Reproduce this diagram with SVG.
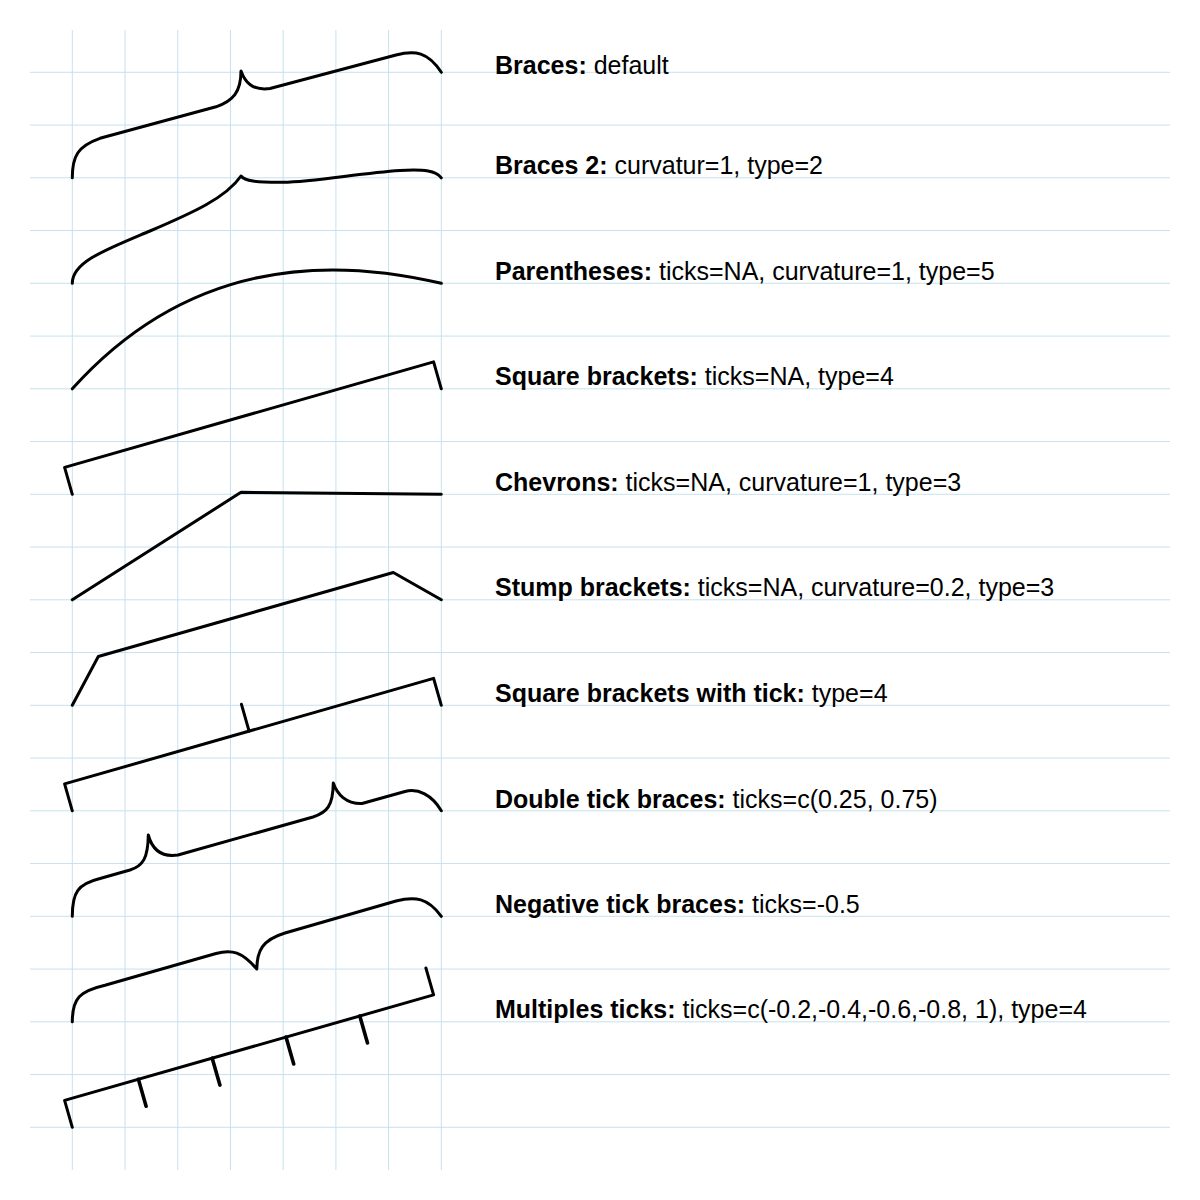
<svg xmlns="http://www.w3.org/2000/svg" width="1200" height="1200" viewBox="0 0 1200 1200">
<style>
.grid line{stroke:#c6e2ee;stroke-width:1}
.br{fill:none;stroke:#000;stroke-width:3;stroke-linejoin:round;stroke-linecap:round}
.tk{stroke-width:3.6}
.lbl{font-family:"Liberation Sans",Arial,sans-serif;font-size:25px;fill:#000}
.lbl tspan{font-weight:bold}
</style>
<rect width="1200" height="1200" fill="#fff"/>
<g class="grid" id="grid">
<line x1="30" y1="72.3" x2="1170" y2="72.3"/>
<line x1="30" y1="125.05" x2="1170" y2="125.05"/>
<line x1="30" y1="177.8" x2="1170" y2="177.8"/>
<line x1="30" y1="230.55" x2="1170" y2="230.55"/>
<line x1="30" y1="283.3" x2="1170" y2="283.3"/>
<line x1="30" y1="336.05" x2="1170" y2="336.05"/>
<line x1="30" y1="388.8" x2="1170" y2="388.8"/>
<line x1="30" y1="441.55" x2="1170" y2="441.55"/>
<line x1="30" y1="494.3" x2="1170" y2="494.3"/>
<line x1="30" y1="547.05" x2="1170" y2="547.05"/>
<line x1="30" y1="599.8" x2="1170" y2="599.8"/>
<line x1="30" y1="652.55" x2="1170" y2="652.55"/>
<line x1="30" y1="705.3" x2="1170" y2="705.3"/>
<line x1="30" y1="758.05" x2="1170" y2="758.05"/>
<line x1="30" y1="810.8" x2="1170" y2="810.8"/>
<line x1="30" y1="863.55" x2="1170" y2="863.55"/>
<line x1="30" y1="916.3" x2="1170" y2="916.3"/>
<line x1="30" y1="969.05" x2="1170" y2="969.05"/>
<line x1="30" y1="1021.8" x2="1170" y2="1021.8"/>
<line x1="30" y1="1074.55" x2="1170" y2="1074.55"/>
<line x1="30" y1="1127.3" x2="1170" y2="1127.3"/>
<line x1="72.3" y1="30" x2="72.3" y2="1170"/>
<line x1="125.02" y1="30" x2="125.02" y2="1170"/>
<line x1="177.74" y1="30" x2="177.74" y2="1170"/>
<line x1="230.46" y1="30" x2="230.46" y2="1170"/>
<line x1="283.18" y1="30" x2="283.18" y2="1170"/>
<line x1="335.9" y1="30" x2="335.9" y2="1170"/>
<line x1="388.62" y1="30" x2="388.62" y2="1170"/>
<line x1="441.34" y1="30" x2="441.34" y2="1170"/>
</g>
<g id="braces-default" class="br"><path d="M72.3,177.8 C72.3,156 78,146 100,138.3 L216,106.8 C233,101 241,92 241,71 C245,82 252,91 270,88.5 L396,55 C415,50 428,52 441.3,72.3"/></g>
<g id="braces-2" class="br"><path d="M72.3,283.3 C72.3,262 105,250 150,231 C192,213 226,198 241,176 C245,181 255,182.5 283,182.3 C315,182 360,173 400,170.5 C425,169 436,171 441.3,177.8"/></g>
<g id="parentheses" class="br"><path d="M72.3,388.8 Q215,230 441.3,283.3"/></g>
<g id="square-brackets" class="br"><path d="M72.3,494.3 L64.6,467.4 L433.6,361.9 L441.3,388.8"/></g>
<g id="chevrons" class="br"><path d="M72.3,599.8 L241,492.3 L441.3,494.3"/></g>
<g id="stump-brackets" class="br"><path d="M72.3,705.3 L98.3,656.5 L393.3,572.5 L441.3,599.8"/></g>
<g id="square-brackets-tick" class="br"><path d="M72.3,810.8 L64.6,783.9 L433.6,678.4 L441.3,705.3"/><path d="M249.1,731.1 L241.4,704.2"/></g>
<g id="double-tick-braces" class="br"><path d="M72.3,916.3 C72.3,892 78,884 100,878.5 L130,870 C143,866 148,858 148.3,835 C151,845 158,858 178,855 L313,817 C327,812.5 333,806 333.3,783 C337,794 346,804 362,803.5 L405,791.5 C418,788 432,795 441.3,810.8"/></g>
<g id="negative-tick-braces" class="br"><path d="M72.3,1021.8 C72.3,998 80,991 105,985.2 L216,953.5 C232,949 242,952 256.8,969 C257,951 262,940 285,933 L396,901 C415,896 428,898 441.3,916.3"/></g>
<g id="multiple-ticks" class="br"><path d="M72.3,1127.3 L64.6,1100.4 L433.6,994.9 L425.9,968"/><path class="tk" d="M138.4,1079.3 L146.1,1106.2 M212.2,1058.2 L219.9,1085.1 M286,1037.1 L293.7,1064 M359.8,1016 L367.5,1042.9"/></g>
<g id="labels">
<text class="lbl" x="495" y="73.5"><tspan>Braces:</tspan> default</text>
<text class="lbl" x="495" y="174"><tspan>Braces 2:</tspan> curvatur=1, type=2</text>
<text class="lbl" x="495" y="280"><tspan>Parentheses:</tspan> ticks=NA, curvature=1, type=5</text>
<text class="lbl" x="495" y="385"><tspan>Square brackets:</tspan> ticks=NA, type=4</text>
<text class="lbl" x="495" y="491"><tspan>Chevrons:</tspan> ticks=NA, curvature=1, type=3</text>
<text class="lbl" x="495" y="596"><tspan>Stump brackets:</tspan> ticks=NA, curvature=0.2, type=3</text>
<text class="lbl" x="495" y="702"><tspan>Square brackets with tick:</tspan> type=4</text>
<text class="lbl" x="495" y="808"><tspan>Double tick braces:</tspan> ticks=c(0.25, 0.75)</text>
<text class="lbl" x="495" y="913"><tspan>Negative tick braces:</tspan> ticks=-0.5</text>
<text class="lbl" x="495" y="1018"><tspan>Multiples ticks:</tspan> ticks=c(-0.2,-0.4,-0.6,-0.8, 1), type=4</text>
</g>
</svg>
